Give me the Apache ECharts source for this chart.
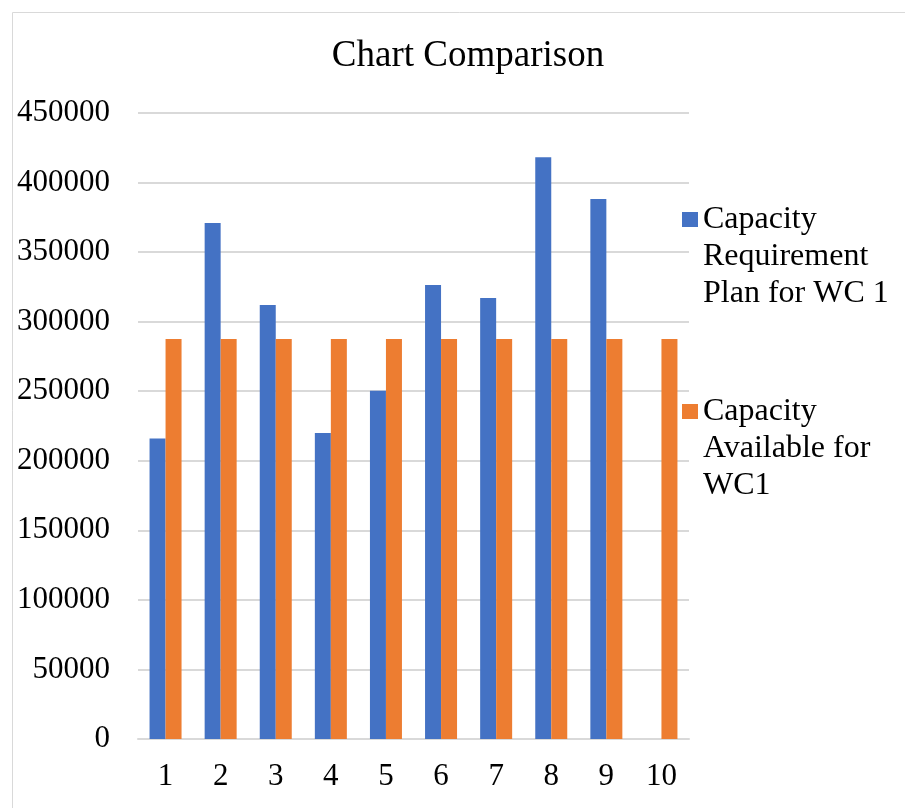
<!DOCTYPE html>
<html>
<head>
<meta charset="utf-8">
<script src="https://cdn.jsdelivr.net/npm/echarts@6/dist/echarts.min.js"></script>
<style>
    html,body{margin:0;padding:0;background:#fff;}
    #chart{width:905px;height:808px;}
</style>
</head>
<body>
<div id="chart"></div>
<script>
    var categories=["1","2","3","4","5","6","7","8","9","10"];
    var requirement=[216000,371000,312000,220000,250300,326300,317000,418200,388200,null];
    var available=[287500,287500,287500,287500,287500,287500,287500,287500,287500,287500];
    var seriesNames=["Capacity\nRequirement\nPlan for WC 1","Capacity\nAvailable for\nWC1"];

    var sFont="'Liberation Serif','Times New Roman',serif";
    var oChart=echarts.init(document.getElementById("chart"));
    var option={
        animation:false,
        color:["#4472C4","#ED7D31"],
        graphic:[{
            type:"rect",
            left:10,
            top:10,
            shape:{width:910,height:810},
            style:{fill:null,stroke:"#d9d9d9",lineWidth:1}
        }],
        title:{
            text:"Chart Comparison",
            left:463,
            textAlign:"center",
            top:33,
            textStyle:{fontFamily:sFont,fontSize:37,fontWeight:"normal",color:"#000"}
        },
        legend:{
            orient:"vertical",
            left:682,
            top:127,
            padding:0,
            itemGap:7,
            itemWidth:16,
            itemHeight:15,
            icon:"rect",
            data:seriesNames,
            // 图标对齐第一行文字：前面补两行空行
            formatter:function(name){
                return "\n\n"+name;
            },
            textStyle:{fontFamily:sFont,fontSize:32,lineHeight:37,color:"#000"}
        },
        grid:{
            left:138,
            right:216,
            top:113,
            bottom:69
        },
        xAxis:{
            type:"category",
            data:categories,
            axisLine:{show:true,lineStyle:{color:"#d9d9d9",width:2}},
            axisTick:{show:false},
            axisLabel:{fontFamily:sFont,fontSize:31,color:"#000",margin:22}
        },
        yAxis:{
            type:"value",
            min:0,
            max:450000,
            interval:50000,
            axisLine:{show:false},
            axisTick:{show:false},
            splitLine:{lineStyle:{color:"#d9d9d9",width:2}},
            axisLabel:{
                fontFamily:sFont,fontSize:31,color:"#000",margin:28,
                formatter:function(v){return String(v);}
            }
        },
        series:[
            {
                name:seriesNames[0],
                type:"bar",
                barWidth:16,
                barGap:"0%",
                data:requirement
            },
            {
                name:seriesNames[1],
                type:"bar",
                barWidth:16,
                barGap:"0%",
                data:available
            }
        ]
    };
    oChart.setOption(option);
</script>
</body>
</html>
